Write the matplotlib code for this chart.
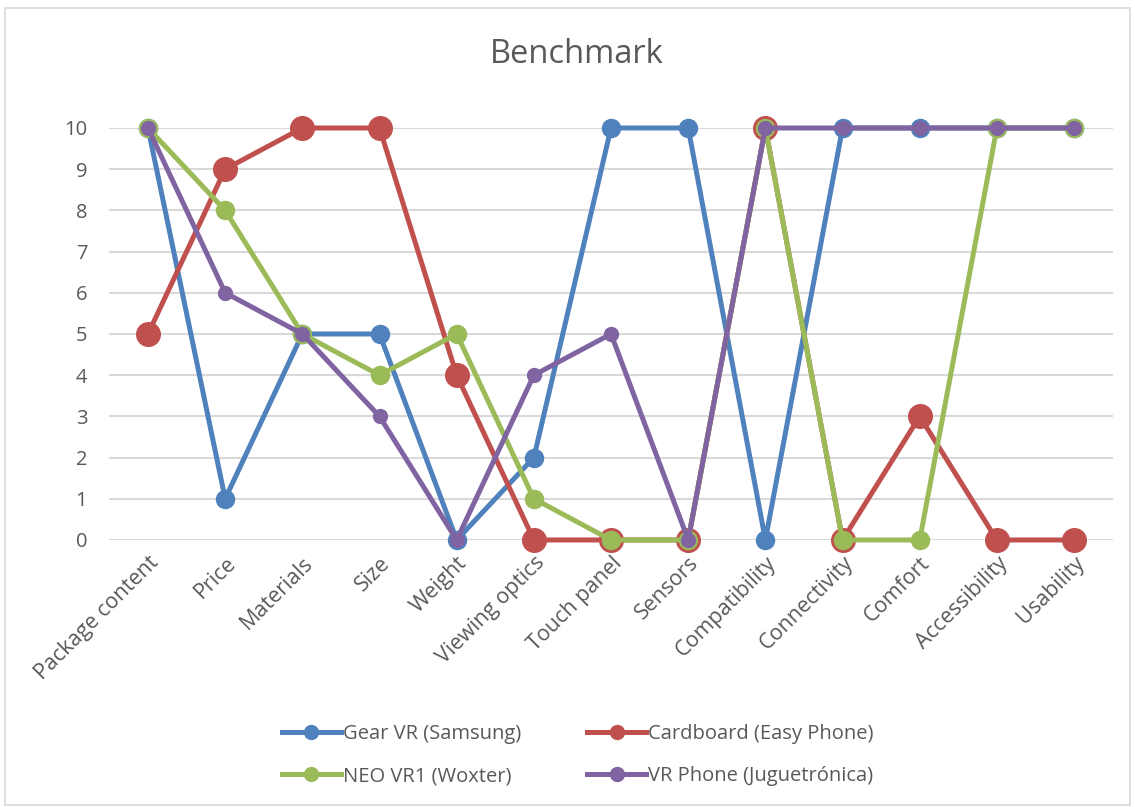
"""
Benchmark line chart of four VR headsets across thirteen criteria.
"""
import matplotlib
matplotlib.use("Agg")
import matplotlib.pyplot as plt
from matplotlib.patches import Rectangle

plt.rcParams['font.family'] = ['Open Sans', 'DejaVu Sans']

categories = ["Package content", "Price", "Materials", "Size", "Weight",
              "Viewing optics", "Touch panel", "Sensors", "Compatibility",
              "Connectivity", "Comfort", "Accessibility", "Usability"]

gear_vr = [10, 1, 5, 5, 0, 2, 10, 10, 0, 10, 10, 10, 10]
cardboard = [5, 9, 10, 10, 4, 0, 0, 0, 10, 0, 3, 0, 0]
neo_vr1 = [10, 8, 5, 4, 5, 1, 0, 0, 10, 0, 0, 10, 10]
vr_phone = [10, 6, 5, 3, 0, 4, 5, 0, 10, 10, 10, 10, 10]

series_names = ["Gear VR (Samsung)", "Cardboard (Easy Phone)",
                "NEO VR1 (Woxter)", "VR Phone (Juguetrónica)"]

TEXT = "#595959"
GRID = "#D9D9D9"

fig = plt.figure(figsize=(11.35, 8.07), dpi=100)
ax = fig.add_axes([0.0964, 0.3309, 0.8839, 0.5105])

x = list(range(len(categories)))
styles = [
    (gear_vr, "#4F81BD", 13),
    (cardboard, "#C0504D", 17),
    (neo_vr1, "#9BBB59", 13),
    (vr_phone, "#8064A2", 10),
]
handles = []
for (vals, color, ms), name in zip(styles, series_names):
    h, = ax.plot(x, vals, color=color, lw=3.6, marker="o", ms=ms,
                 label=name, clip_on=False, solid_joinstyle="round")
    handles.append(h)

ax.set_xlim(-0.5, len(categories) - 0.5)
ax.set_ylim(0, 10)
ax.set_yticks(range(0, 11))
ax.set_xticks(x)
ax.set_xticklabels(categories, rotation=45, ha="right", rotation_mode="anchor")
ax.tick_params(axis="x", length=0, labelsize=15.5, colors=TEXT, pad=9)
ax.tick_params(axis="y", length=0, labelsize=14.5, colors=TEXT, pad=16)
ax.grid(axis="y", color=GRID, lw=1.5)
ax.set_axisbelow(True)
for s in ax.spines.values():
    s.set_visible(False)

fig.suptitle("Benchmark", x=0.508, y=0.953, fontsize=23.5, color=TEXT)

# legend rows: Gear / Cardboard on top, NEO / VR Phone below
order = [0, 2, 1, 3]
leg = fig.legend([handles[i] for i in order], [series_names[i] for i in order],
                 ncol=2, loc="center", bbox_to_anchor=(0.509, 0.064),
                 frameon=False, fontsize=14.5, handlelength=2.9,
                 handletextpad=0.1, columnspacing=3.3, labelspacing=1.1)
for t in leg.get_texts():
    t.set_color(TEXT)
for lh in leg.legend_handles:
    lh.set_markersize(10)

fig.patches.append(Rectangle((0.004, 0.002), 0.992, 0.988,
                             transform=fig.transFigure, fill=False,
                             edgecolor=GRID, lw=1.2))

plt.savefig("out.png", dpi=100)
